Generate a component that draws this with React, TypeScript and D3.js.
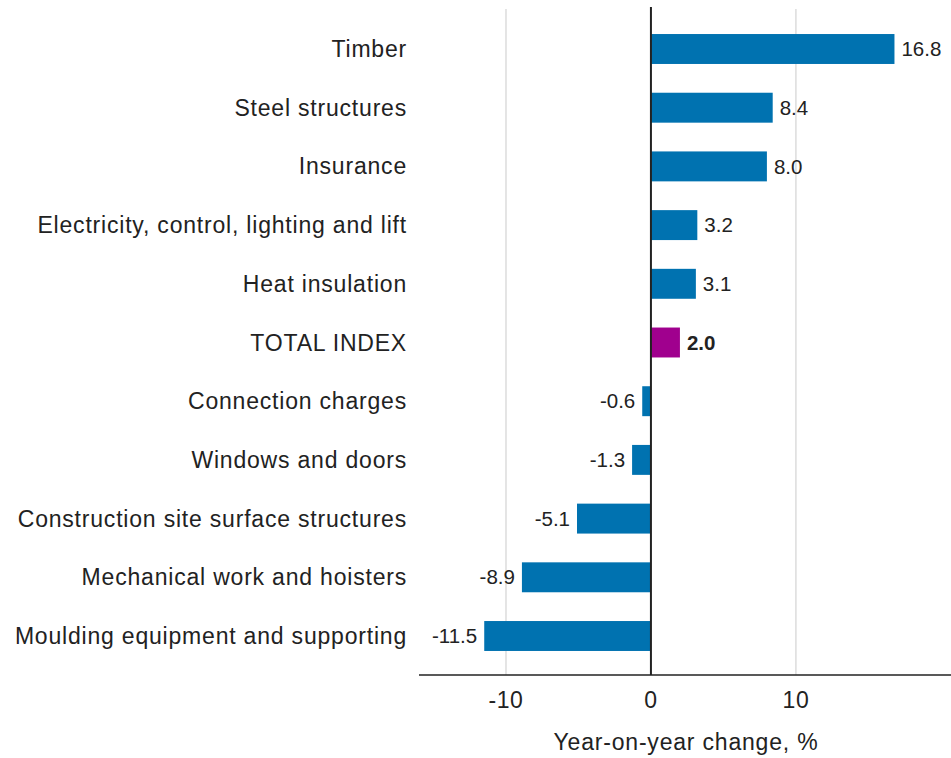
import React from 'react';
import * as d3 from 'd3';

// categories top to bottom, values in % change
const categories = [
  'Timber',
  'Steel structures',
  'Insurance',
  'Electricity, control, lighting and lift',
  'Heat insulation',
  'TOTAL INDEX',
  'Connection charges',
  'Windows and doors',
  'Construction site surface structures',
  'Mechanical work and hoisters',
  'Moulding equipment and supporting',
];
const values = [16.8, 8.4, 8.0, 3.2, 3.1, 2.0, -0.6, -1.3, -5.1, -8.9, -11.5];
const xTicks = [-10, 0, 10];
const highlight = 'TOTAL INDEX';

const W = 951;
const H = 758;
const font = "'Liberation Sans', Arial, sans-serif";

const App = () => {
  const x = d3.scaleLinear().domain([-16, 20.7]).range([419, 951]);
  const step = 58.7;
  const y = d3.scaleBand<string>()
    .domain(categories)
    .range([49 - step / 2, 49 + step * 10.5])
    .paddingInner(0.49)
    .paddingOuter(0.245);
  const axisY = 675;

  return (
    <svg width={W} height={H} style={{ display: 'block', position: 'absolute', left: 0, top: 0 }}>
      <rect width={W} height={H} fill="#fff" />
      {/* grid */}
      {xTicks.filter(t => t !== 0).map(t => (
        <line key={t} x1={x(t)} x2={x(t)} y1={9} y2={axisY} stroke="#dcdcdc" strokeWidth={1.5} />
      ))}
      {/* bars */}
      {categories.map((c, i) => {
        const v = values[i];
        const x0 = x(Math.min(0, v));
        const x1 = x(Math.max(0, v));
        return (
          <rect key={c} x={x0} y={y(c)} width={x1 - x0} height={y.bandwidth()}
            fill={c === highlight ? '#a0008e' : '#0072b0'} />
        );
      })}
      {/* zero line */}
      <line x1={x(0)} x2={x(0)} y1={7} y2={axisY} stroke="#222" strokeWidth={2} />
      {/* bottom axis */}
      <line x1={419} x2={W} y1={axisY} y2={axisY} stroke="#222" strokeWidth={1.5} />
      {/* category labels */}
      {categories.map(c => (
        <text key={c} x={407} y={(y(c) as number) + y.bandwidth() / 2} dy="0.35em"
          textAnchor="end" fontFamily={font} fontSize={23} letterSpacing={0.8} fill="#222">{c}</text>
      ))}
      {/* value labels */}
      {categories.map((c, i) => {
        const v = values[i];
        const pos = v >= 0;
        return (
          <text key={c} x={pos ? x(v) + 7 : x(v) - 7} y={(y(c) as number) + y.bandwidth() / 2} dy="0.35em"
            textAnchor={pos ? 'start' : 'end'} fontFamily={font} fontSize={20.5}
            fontWeight={c === highlight ? 'bold' : 'normal'} fill="#222">{v.toFixed(1)}</text>
        );
      })}
      {/* tick labels */}
      {xTicks.map(t => (
        <text key={t} x={x(t)} y={700} dy="0.35em" textAnchor="middle" fontFamily={font} fontSize={23}
          letterSpacing={0.5} fill="#222">{t}</text>
      ))}
      <text x={686} y={750} textAnchor="middle" fontFamily={font} fontSize={23} letterSpacing={0.8}
        fill="#222">Year-on-year change, %</text>
    </svg>
  );
};

export default App;
